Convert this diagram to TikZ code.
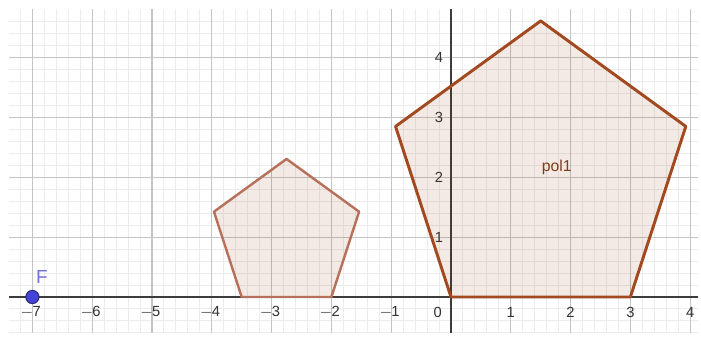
\documentclass[tikz,border=0pt]{standalone}
\usepackage{fontspec}
\setmainfont{Liberation Sans}
\usepackage{xcolor}
\usepackage{tikz}
\usetikzlibrary{calc}
\definecolor{ggbBrown}{HTML}{A3491F}
\definecolor{ggbBrownLight}{HTML}{B7705A}
\definecolor{ggbFill}{HTML}{993300}
\definecolor{ggbBlue}{HTML}{4444D8}
\definecolor{ggbBlueText}{HTML}{7070E0}
\definecolor{ggbAxis}{HTML}{3C3C3C}
\definecolor{ggbMajor}{HTML}{C4C4C4}
\definecolor{ggbMinor}{HTML}{ECECEC}
\tikzset{
  minor grid/.style={draw=ggbMinor, line width=0.45pt},
  major grid/.style={draw=ggbMajor, line width=0.5pt},
  axis line/.style={draw=ggbAxis, line width=0.6pt},
  tick label/.style={font=\fontsize{7}{8}\selectfont, text=black!80, inner sep=0pt},
  big pentagon/.style={draw=ggbBrown, line width=1.4pt, line join=round,
    fill=ggbFill, fill opacity=0.1},
  small pentagon/.style={draw=ggbBrownLight, line width=1.15pt, line join=round,
    fill=ggbFill, fill opacity=0.1},
  free point/.style={circle, draw=ggbBlue!60!black, fill=ggbBlue, line width=0.5pt,
    minimum size=2.2mm, inner sep=0pt},
  point label/.style={font=\fontsize{9}{10}\selectfont, text=ggbBlueText, inner sep=0pt},
  poly label/.style={font=\fontsize{7.5}{9}\selectfont, text=ggbBrown!80!black, inner sep=0pt}
}

\begin{document}
\begin{tikzpicture}[x=1cm, y=1cm]
  \useasboundingbox (-7.542,-0.686) rectangle (4.181,4.967);
  \fill[white] (-7.542,-0.686) rectangle (4.181,4.967);
  \foreach \x in {-7.2,-7.0,...,4.05}
    \draw[minor grid] (\x,-0.6) -- (\x,4.82);
  \foreach \y in {-0.6,-0.4,...,4.75}
    \draw[minor grid] (-7.39,\y) -- (4.13,\y);
  \foreach \x in {-7,...,4}
    \draw[major grid] (\x,-0.6) -- (\x,4.82);
  \foreach \y in {1,...,4}
    \draw[major grid] (-7.39,\y) -- (4.13,\y);
  \draw[axis line] (-7.39,0) -- (4.13,0);
  \draw[axis line] (0,-0.6) -- (0,4.82);
  \foreach \x in {-7,...,-1}
    \node[tick label] (xl\x) at (\x-0.03,-0.25) {$-$\hspace{-0.5pt}\the\numexpr-\x\relax};
  \foreach \x in {1,...,4}
    \node[tick label] (xl\x) at (\x,-0.25) {\x};
  \node[tick label] (xl0) at (-0.22,-0.25) {0};
  \foreach \y in {1,...,4}
    \node[tick label] (yl\y) at (-0.2,\y) {\y};
  \coordinate (A) at (0,0);
  \coordinate (B) at (3,0);
  \coordinate (C) at (3.927,2.853);
  \coordinate (D) at (1.5,4.617);
  \coordinate (E) at (-0.927,2.853);
  \coordinate (F) at (-7,0);
  \coordinate (A1) at ($(F)!0.5!(A)$);
  \coordinate (B1) at ($(F)!0.5!(B)$);
  \coordinate (C1) at ($(F)!0.5!(C)$);
  \coordinate (D1) at ($(F)!0.5!(D)$);
  \coordinate (E1) at ($(F)!0.5!(E)$);
  \draw[small pentagon] (A1) -- (B1) -- (C1) -- (D1) -- (E1) -- cycle;
  \draw[big pentagon] (A) -- (B) -- (C) -- (D) -- (E) -- cycle;
  \node[poly label] (pol1) at (1.77,2.17) {pol1};
  \node[free point] (Fpt) at (F) {};
  \node[point label] (Flabel) at (-6.84,0.33) {F};
\end{tikzpicture}
\end{document}
